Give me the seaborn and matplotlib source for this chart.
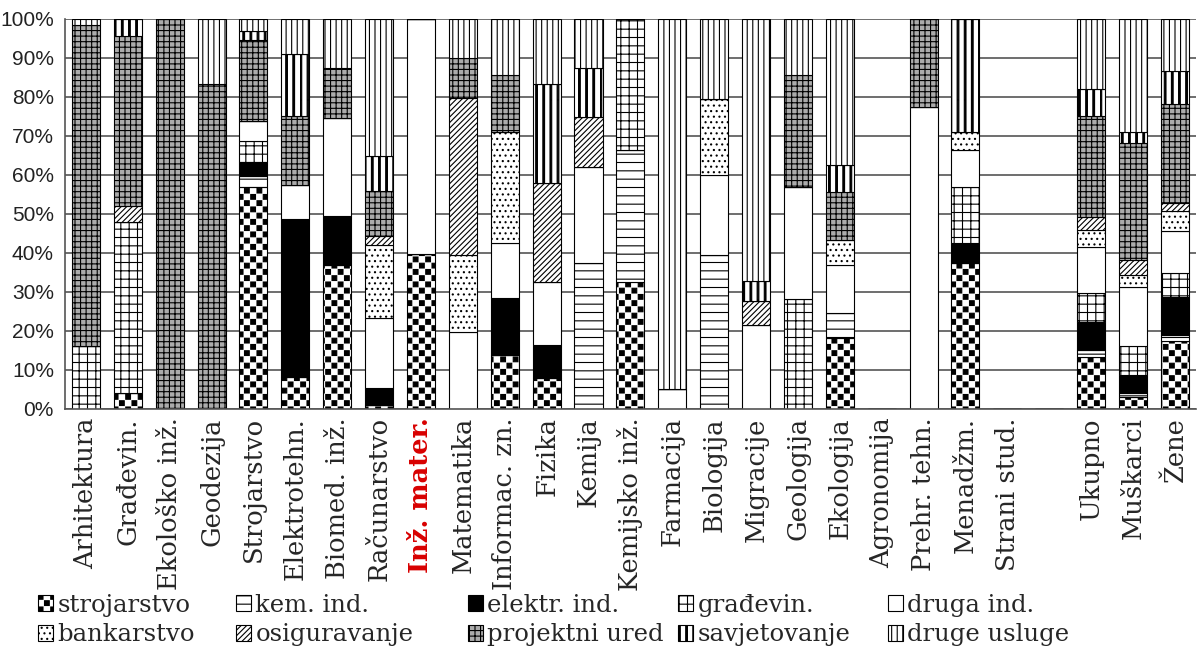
import numpy as np
import matplotlib
matplotlib.use("Agg")
import matplotlib.pyplot as plt
import matplotlib.hatch as mhatch
import matplotlib.patches as mpatches
from matplotlib.path import Path
import seaborn as sns

# ---------------- data ----------------
categories = ["Arhitektura", "Građevin.", "Ekološko inž.", "Geodezija", "Strojarstvo",
              "Elektrotehn.", "Biomed. inž.", "Računarstvo", "Inž. mater.", "Matematika",
              "Informac. zn.", "Fizika", "Kemija", "Kemijsko inž.", "Farmacija",
              "Biologija", "Migracije", "Geologija", "Ekologija", "Agronomija",
              "Prehr. tehn.", "Menadžm.", "Strani stud.", " ", "Ukupno", "Muškarci", "Žene"]

strojarstvo  = [0, 4, 0, 0, 57, 8.3, 36.9, 1, 39.7, 0, 13.8, 7.9, 0, 32.6, 0, 0, 0, 0, 18.1, 0, 0, 37.4, 0, 0, 13.4, 3, 17.3]
kem_ind      = [0, 0, 0, 0, 2.8, 0, 0, 0, 0, 0, 0, 0, 37.4, 33.8, 0, 39.5, 0, 0, 6.6, 0, 0, 0, 0, 0, 1.6, 1, 1.7]
elektr_ind   = [0, 0, 0, 0, 3.6, 40.3, 12.6, 4.3, 0, 0, 14.6, 8.5, 0, 0, 0, 0, 0, 0, 0, 0, 0, 5.1, 0, 0, 7.4, 4.7, 9.6]
gradevin     = [16, 43.8, 0, 0, 5.3, 0, 0, 0, 0, 0, 0, 0, 0, 33.6, 0, 0, 0, 28.1, 0, 0, 0, 14.5, 0, 0, 7.3, 7.3, 6.2]
druga_ind    = [0, 0, 0, 0, 5, 8.7, 25, 17.9, 60.3, 19.8, 14.1, 16.2, 24.7, 0, 5.1, 20.5, 21.5, 28.7, 12.2, 0, 77.5, 9.4, 0, 0, 11.8, 15.2, 10.7]
bankarstvo   = [0, 0, 0, 0, 0, 0, 0, 18.8, 0, 19.7, 28.6, 0, 0, 0, 0, 19.4, 0, 0, 6.3, 0, 0, 4.7, 0, 0, 4.4, 3.2, 5.1]
osiguravanje = [0, 4.2, 0, 0, 0, 0, 0, 2.4, 0, 40.2, 0, 25.3, 12.7, 0, 0, 0, 6.2, 0, 0, 0, 0, 0, 0, 0, 3.2, 3.8, 2.3]
projektni    = [82.5, 43.5, 100, 83.3, 20.9, 17.8, 12.9, 11.5, 0, 10.2, 14.5, 0, 0, 0, 0, 0, 0, 28.7, 12.5, 0, 22.5, 0, 0, 0, 26, 29.9, 25.2]
savjetovanje = [0, 4.5, 0, 0, 2.2, 15.9, 0, 8.8, 0, 0, 0, 25.4, 12.7, 0, 0, 0, 5.2, 0, 6.7, 0, 0, 28.9, 0, 0, 6.9, 3, 8.4]
druge_usluge = [1.5, 0, 0, 16.7, 3.2, 9, 12.6, 35.3, 0, 10.1, 14.4, 16.7, 12.5, 0, 94.9, 20.6, 67.1, 14.5, 37.6, 0, 0, 0, 0, 0, 18, 28.9, 13.5]

series_names = ["strojarstvo", "kem. ind.", "elektr. ind.", "građevin.", "druga ind.",
                "bankarstvo", "osiguravanje", "projektni ured", "savjetovanje", "druge usluge"]
series_vals = [strojarstvo, kem_ind, elektr_ind, gradevin, druga_ind,
               bankarstvo, osiguravanje, projektni, savjetovanje, druge_usluge]
y_ticklabels = ["0%", "10%", "20%", "30%", "40%", "50%", "60%", "70%", "80%", "90%", "100%"]
highlight = "Inž. mater."


# ---------------- custom hatches ----------------
class CheckerHatch(mhatch.HatchPatternBase):
    def __init__(self, hatch, density):
        self.n = 16 if "*" in hatch else 0
        self.cells = [(i, j) for i in range(self.n) for j in range(self.n) if (i + j) % 2 == 0]
        self.num_vertices = 5 * len(self.cells)

    def set_vertices_and_codes(self, vertices, codes):
        s = 1.0 / self.n
        m = s * 0.12
        for k, (i, j) in enumerate(self.cells):
            x0, y0, x1, y1 = i * s + m, j * s + m, (i + 1) * s - m, (j + 1) * s - m
            vertices[5 * k:5 * k + 5] = [[x0, y0], [x1, y0], [x1, y1], [x0, y1], [x0, y0]]
            codes[5 * k:5 * k + 5] = [Path.MOVETO, Path.LINETO, Path.LINETO, Path.LINETO, Path.CLOSEPOLY]


class ThickStripeHatch(mhatch.HatchPatternBase):
    def __init__(self, hatch, density):
        self.n = 14 if "O" in hatch else 0
        self.num_vertices = 5 * self.n

    def set_vertices_and_codes(self, vertices, codes):
        s = 1.0 / self.n
        w = s * 0.24
        for k in range(self.n):
            x0, x1 = k * s, k * s + w
            vertices[5 * k:5 * k + 5] = [[x0, 0], [x1, 0], [x1, 1], [x0, 1], [x0, 0]]
            codes[5 * k:5 * k + 5] = [Path.MOVETO, Path.LINETO, Path.LINETO, Path.LINETO, Path.CLOSEPOLY]


mhatch._hatch_types = [t for t in mhatch._hatch_types
                       if t not in (mhatch.Stars, mhatch.LargeCircles)] + [CheckerHatch, ThickStripeHatch]

styles = [
    ("white", "*"),          # strojarstvo - checker
    ("white", "--"),         # kem. ind.
    ("black", None),         # elektr. ind.
    ("white", "++"),         # građevin.
    ("white", None),         # druga ind.
    ("white", "..."),        # bankarstvo
    ("white", "//////"),     # osiguravanje
    ("#ababab", "+++"),      # projektni ured
    ("white", "O"),          # savjetovanje
    ("white", "|||"),        # druge usluge
]

# ---------------- figure ----------------
sns.set_style("white")
plt.rcParams["hatch.linewidth"] = 0.8
plt.rcParams["font.family"] = ["DejaVu Serif"]

fig = plt.figure(figsize=(11.97, 6.48), dpi=100)
ax = fig.add_axes([0.0543, 0.369, 0.9447, 0.602])

bottom = np.zeros(len(categories))
for name, vals, (fc, hatch) in zip(series_names, series_vals, styles):
    vals = np.asarray(vals, dtype=float)
    sns.barplot(x=categories, y=vals, bottom=bottom, color=fc, facecolor=fc,
                hatch=hatch, edgecolor="black", linewidth=0.8, width=0.67,
                errorbar=None, saturation=1, ax=ax, zorder=2)
    bottom = bottom + vals

ax.set_xlim(-0.5, len(categories) - 0.5)
ax.set_ylim(0, 100)
ax.set_yticks(np.arange(0, 101, 10))
ax.set_yticklabels(y_ticklabels, family="Liberation Sans", fontsize=15, color="#222222")
ax.yaxis.grid(True, color="#555555", linewidth=1.2, zorder=0)
ax.xaxis.grid(False)
ax.set_axisbelow(True)

ax.set_xticks(np.arange(len(categories)))
ax.set_xticklabels(categories, rotation=90, fontsize=18.5, family="DejaVu Serif")
for lbl in ax.get_xticklabels():
    if lbl.get_text() == highlight:
        lbl.set_color("#d80000")
        lbl.set_fontweight("bold")
ax.set_xticks(np.arange(len(categories) + 1) - 0.5, minor=True)
ax.tick_params(axis="x", which="major", length=0, pad=6)
ax.tick_params(axis="x", which="minor", length=7, direction="inout", color="#555555", width=1)
ax.tick_params(axis="y", which="major", length=5, direction="out", color="#555555", width=1, pad=3)
ax.set_xlabel("")
ax.set_ylabel("")

for side in ["left", "bottom"]:
    ax.spines[side].set_color("#555555")
    ax.spines[side].set_linewidth(1.2)
ax.spines["right"].set_visible(False)
ax.spines["top"].set_visible(False)

# legend: five columns, each its own legend placed where the reference has it
handles = [mpatches.Patch(facecolor=fc, hatch=h, edgecolor="black", linewidth=0.8, label=n)
           for n, (fc, h) in zip(series_names, styles)]
col_x = [38, 236, 468, 678, 888]
for c, px in enumerate(col_x):
    idx = [c, c + 5]
    fig.legend([handles[i] for i in idx], [series_names[i] for i in idx],
               ncol=1, loc="upper left", bbox_to_anchor=(px / 1197, 0.084), frameon=False,
               fontsize=17.5, handlelength=0.6, handleheight=0.6, handletextpad=0.2,
               labelspacing=0.28, borderpad=0, borderaxespad=0)

fig.savefig("out.png", dpi=100)
